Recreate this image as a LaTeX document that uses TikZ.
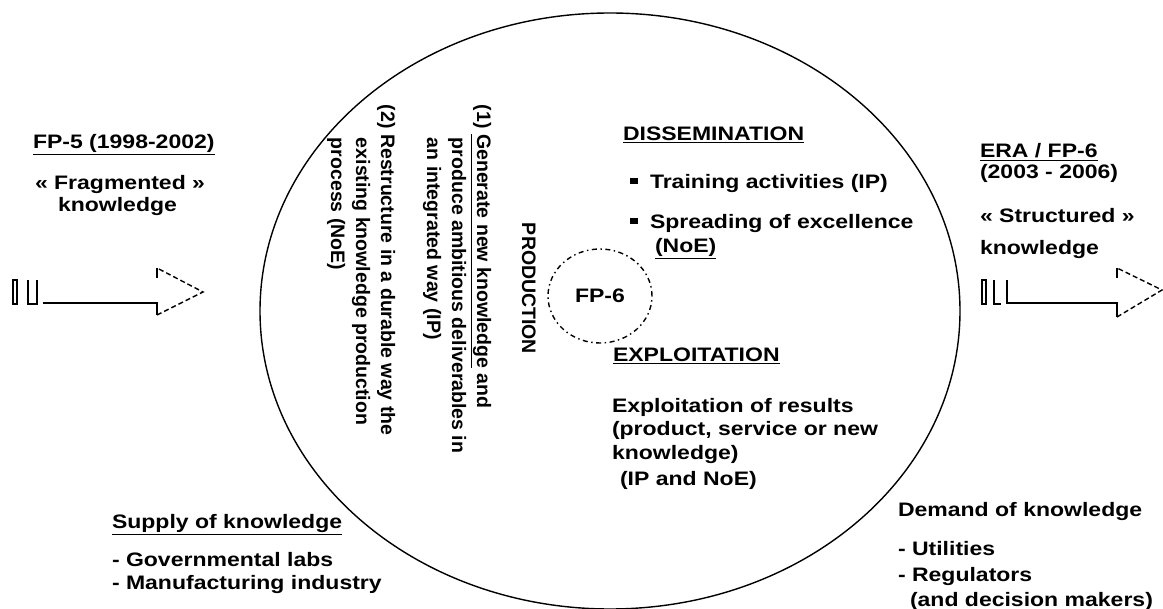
\documentclass[tikz,border=0pt]{standalone}
\usepackage{fontspec}
\setmainfont{Liberation Sans}[FakeStretch=1.18]
\newfontfamily\rotfont{Liberation Sans}
\usetikzlibrary{shapes.geometric}
\newcommand{\sqbul}{\raisebox{5pt}{\rule{8pt}{6pt}}\hspace{12pt}}
\tikzset{
  txt/.style={inner sep=0pt, outer sep=0pt, anchor=base west, font=\fontsize{19.5}{23}\selectfont\bfseries},
  rtxt/.style={inner sep=0pt, outer sep=0pt, anchor=base west, rotate=-90, font=\rotfont\fontsize{19.5}{23}\selectfont\bfseries},
  arrline/.style={line width=1.4pt, line join=miter},
  arrdash/.style={arrline, dash pattern=on 5pt off 3pt},
  bigcirc/.style={ellipse, draw, line width=1.4pt, inner sep=0pt, minimum width=700pt, minimum height=596pt},
  fpcirc/.style={ellipse, draw, line width=1.4pt, dash pattern=on 5pt off 3.5pt on 1.5pt off 3.5pt, inner sep=0pt, minimum width=104pt, minimum height=94pt, font=\fontsize{19.5}{23}\selectfont\bfseries}
}
\begin{document}
\begin{tikzpicture}[x=1pt,y=-1pt]
\useasboundingbox (0,0) rectangle (1163,609);
\fill[white] (0,0) rectangle (1163,609);

% main ellipse and FP-6 circle
\node[bigcirc] (prod) at (610,311) {};
\node[fpcirc] (fp6) at (600,296) {FP-6};

% left striped arrow
\coordinate (la0) at (43,303);
\coordinate (la1) at (157,303);
\coordinate (la2) at (157,315);
\coordinate (latip) at (203,292);
\coordinate (la3) at (157,268);
\coordinate (la4) at (157,278);
\draw[arrline] (13,280) rectangle (17,304);
\draw[arrline] (28,280) -- (28,304) -- (37,304) -- (37,280);
\draw[arrline] (la0) -- (la1) -- (la2);
\draw[arrdash] (la2) -- (latip) -- (la3);
\draw[arrline] (la3) -- (la4);

% right striped arrow
\coordinate (ra0) at (1007,280);
\coordinate (ra0b) at (1007,303);
\coordinate (ra1) at (1117,303);
\coordinate (ra2) at (1117,317);
\coordinate (ratip) at (1162,290);
\coordinate (ra3) at (1117,268);
\coordinate (ra4) at (1117,278);
\draw[arrline] (982,280) rectangle (986,304);
\draw[arrline] (994,280) -- (994,304) -- (1001,304);
\draw[arrline] (ra0) -- (ra0b) -- (ra1) -- (ra2);
\draw[arrdash] (ra2) -- (ratip) -- (ra3);
\draw[arrline] (ra3) -- (ra4);

% left texts
\node[txt] (fp5) at (33,149) {\underline{FP-5 (1998-2002)}};
\node[txt] (frag) at (35,190) {« Fragmented »};
\node[txt] (know1) at (58,212) {knowledge};

% right texts
\node[txt] (era) at (980,158) {\underline{ERA / FP-6}};
\node[txt] (yrs) at (980,179) {(2003 - 2006)};
\node[txt] (struc) at (980,223) {« Structured »};
\node[txt] (know2) at (980,255) {knowledge};

% dissemination
\node[txt] (diss) at (623,141) {\underline{DISSEMINATION}};
\node[txt] (train) at (630,189) {\sqbul Training activities (IP)};
\node[txt] (spread) at (630,229) {\sqbul Spreading of excellence};
\node[txt] (noe) at (655,253) {\underline{(NoE)}};

% exploitation
\node[txt] (expl) at (613,362) {\underline{EXPLOITATION}};
\node[txt] (ex1) at (612,413) {Exploitation of results};
\node[txt] (ex2) at (612,436) {(product, service or new};
\node[txt] (ex3) at (612,460) {knowledge)};
\node[txt] (ex4) at (620,486) {(IP and NoE)};

% supply / demand
\node[txt] (sup) at (112,529) {\underline{Supply of knowledge}};
\node[txt] (sup1) at (112,566) {- Governmental labs};
\node[txt] (sup2) at (112,590) {- Manufacturing industry};
\node[txt] (dem) at (898,517) {Demand of knowledge};
\node[txt] (dem1) at (898,556) {- Utilities};
\node[txt] (dem2) at (898,582) {- Regulators};
\node[txt] (dem3) at (910,606) {(and decision makers)};

% production (rotated)
\node[rtxt] (prodt) at (522,223) {PRODUCTION};
\node[rtxt] (g1) at (477,105) {(1) \underline{Generate new knowledge} and};
\node[rtxt] (g2) at (452,138) {produce ambitious deliverables in};
\node[rtxt] (g3) at (427,138) {an integrated way (IP)};
\node[rtxt] (r1) at (381,105) {(2) Restructure in a durable way the};
\node[rtxt] (r2) at (356,138) {existing knowledge production};
\node[rtxt] (r3) at (331,138) {process (NoE)};
\end{tikzpicture}
\end{document}
